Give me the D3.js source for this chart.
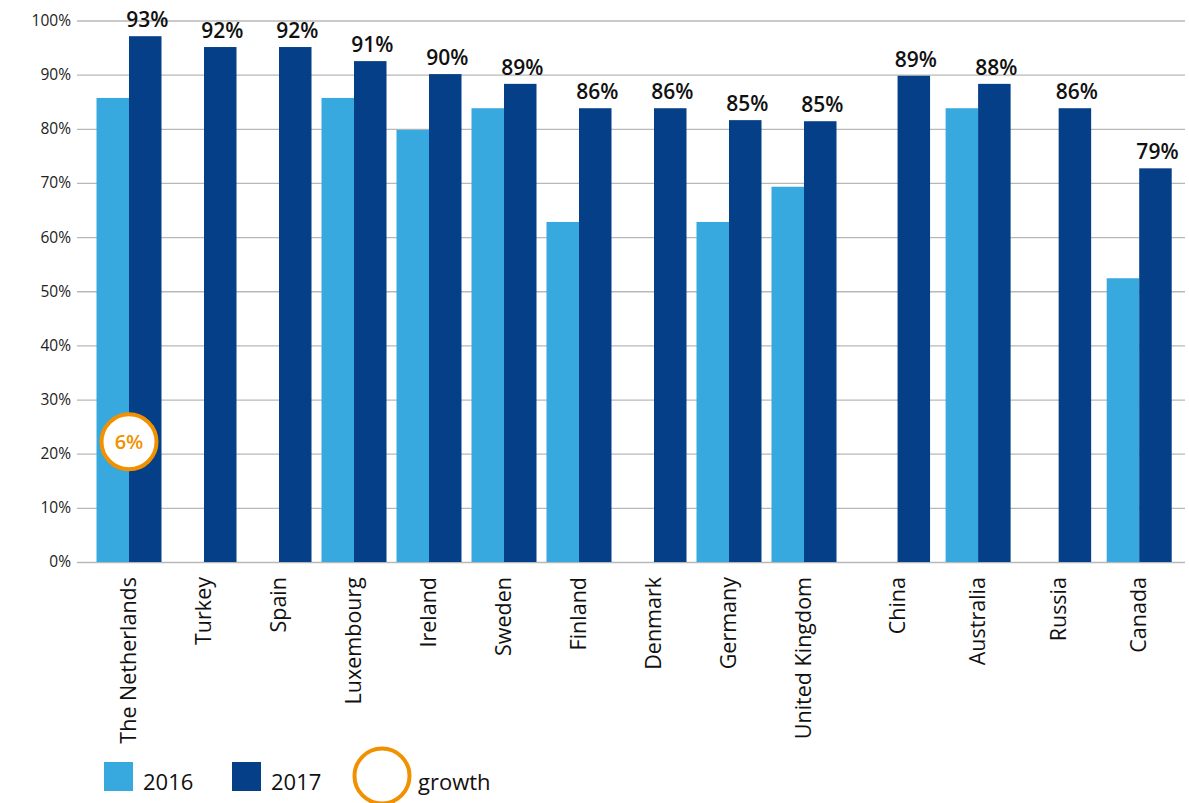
<!DOCTYPE html>
<html>
<head>
<meta charset="utf-8">
<script src="https://cdn.jsdelivr.net/npm/d3@7"></script>
<style>
  body { margin: 0; background: #fff; }
  svg { display: block; }
</style>
</head>
<body>
<div id="chart"></div>
<script>
// ---- Data ----
const europe = ['The Netherlands', 'Turkey', 'Spain', 'Luxembourg', 'Ireland', 'Sweden', 'Finland', 'Denmark', 'Germany', 'United Kingdom'];
const otherCountries = ['China', 'Australia', 'Russia', 'Canada'];
const countries = europe.concat(otherCountries);
const values2016 = [85.7, null, null, 85.7, 79.8, 83.8, 62.8, null, 62.8, 69.3, null, 83.8, null, 52.4];
const values2017 = [97.1, 95.1, 95.1, 92.5, 90.1, 88.3, 83.8, 83.8, 81.6, 81.4, 89.8, 88.3, 83.8, 72.7];
const labels2017 = ['93%', '92%', '92%', '91%', '90%', '89%', '86%', '86%', '85%', '85%', '89%', '88%', '86%', '79%'];
const yTicks = [0, 10, 20, 30, 40, 50, 60, 70, 80, 90, 100];
const seriesNames = ['2016', '2017'];
const growthCountry = 'The Netherlands';
const growthLabel = '6%';

// ---- Style ----
const W = 1189, H = 803;
const LIGHT = '#38a9df', DARK = '#043f87', ORANGE = '#f29100', GRID = '#b8b8b8';
const FONT = "'Open Sans', 'Noto Sans', sans-serif";

const svg = d3.select('#chart').append('svg')
  .attr('width', W).attr('height', H)
  .style('font-family', FONT);

const y = d3.scaleLinear().domain([0, 100]).range([562, 20.5]);

// two groups of countries, the second one a little wider spaced
const xEu = d3.scaleBand().domain(europe).range([91.5, 841.5]).paddingInner(0.1333).paddingOuter(0.0667);
const xOther = d3.scaleBand().domain(otherCountries).range([857, 1180]).paddingInner(0.19).paddingOuter(0.1);
const bw = xEu.bandwidth();
const xGroup = c => (europe.includes(c) ? xEu(c) : xOther(c));
const xSub = d3.scaleBand().domain(seriesNames).range([0, bw]);

// gridlines
const yAxis = d3.axisLeft(y).tickValues(yTicks).tickSize(-(1185 - 77)).tickFormat(d => d + '%');
const gy = svg.append('g').attr('transform', 'translate(77,0)').call(yAxis);
gy.select('.domain').remove();
gy.selectAll('.tick line').attr('stroke', GRID).attr('stroke-width', 1.3);
gy.selectAll('.tick text')
  .attr('x', -6).attr('fill', '#222')
  .style('font-size', '15.5px').style('font-family', FONT);

// bars
const rows = countries.map((c, i) => ({ country: c, v16: values2016[i], v17: values2017[i], label: labels2017[i] }));
const g = svg.append('g');
const groups = g.selectAll('g.country').data(rows).join('g')
  .attr('class', 'country')
  .attr('transform', d => `translate(${xGroup(d.country)},0)`);

groups.filter(d => d.v16 != null).append('rect')
  .attr('x', xSub('2016')).attr('width', xSub.bandwidth())
  .attr('y', d => y(d.v16)).attr('height', d => y(0) - y(d.v16))
  .attr('fill', LIGHT);

groups.append('rect')
  .attr('x', xSub('2017')).attr('width', xSub.bandwidth())
  .attr('y', d => y(d.v17)).attr('height', d => y(0) - y(d.v17))
  .attr('fill', DARK);

groups.append('text')
  .attr('x', xSub('2017') + xSub.bandwidth() / 2 + 2)
  .attr('y', d => y(d.v17) - 9)
  .attr('text-anchor', 'middle')
  .attr('fill', '#111')
  .style('font-size', '21px').style('font-weight', 600)
  .text(d => d.label);

// country labels
groups.append('text')
  .attr('transform', `translate(${bw / 2 + 7},577) rotate(-90)`)
  .attr('text-anchor', 'end')
  .attr('fill', '#111')
  .style('font-size', '21.5px')
  .text(d => d.country);

// growth marker
const gx = xGroup(growthCountry) + bw / 2;
const growth = svg.append('g').attr('transform', `translate(${gx},${y(22.2)})`);
growth.append('circle').attr('r', 27.5).attr('fill', '#fff').attr('stroke', ORANGE).attr('stroke-width', 4);
growth.append('text').attr('text-anchor', 'middle').attr('dy', '0.35em')
  .attr('fill', ORANGE).style('font-size', '20px').style('font-weight', 600)
  .text(growthLabel);

// legend
const legend = svg.append('g').attr('transform', 'translate(104,762)');
const legendItems = [
  { name: seriesNames[0], color: LIGHT, x: 0 },
  { name: seriesNames[1], color: DARK, x: 128 }
];
legendItems.forEach(it => {
  legend.append('rect').attr('x', it.x).attr('y', 0).attr('width', 29).attr('height', 29).attr('fill', it.color);
  legend.append('text').attr('x', it.x + 39).attr('y', 28)
    .attr('fill', '#111').style('font-size', '22px').text(it.name);
});
legend.append('circle').attr('cx', 278).attr('cy', 14).attr('r', 27.5)
  .attr('fill', '#fff').attr('stroke', ORANGE).attr('stroke-width', 4);
legend.append('text').attr('x', 314).attr('y', 28)
  .attr('fill', '#111').style('font-size', '22px').text('growth');
</script>
</body>
</html>
